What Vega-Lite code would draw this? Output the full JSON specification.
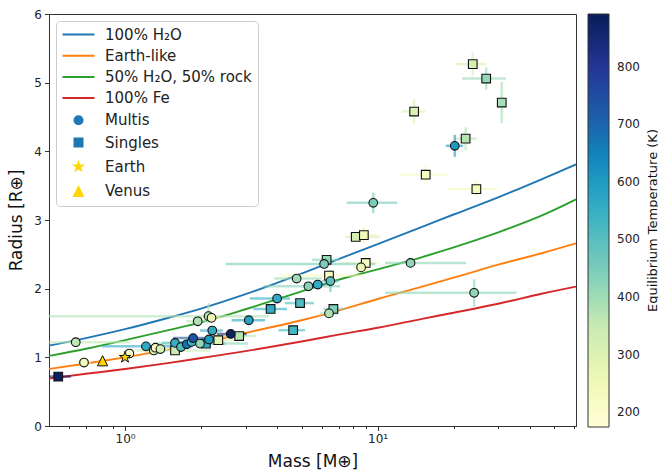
{
  "$schema": "https://vega.github.io/schema/vega-lite/v6.json",
  "width": 527,
  "height": 412,
  "autosize": {"type": "none"},
  "padding": {"left": 49, "top": 14, "right": 82, "bottom": 49},
  "config": {
    "font": "DejaVu Sans",
    "view": {"stroke": "#333", "strokeWidth": 1},
    "axis": {"grid": false, "domainColor": "#333", "tickColor": "#333", "labelColor": "#222", "titleColor": "#111", "labelFont": "DejaVu Sans", "titleFont": "DejaVu Sans", "titleFontWeight": "normal", "labelFontSize": 12, "titleFontSize": 17},
    "axisY": {"tickCount": 6, "tickSize": 4.5, "labelPadding": 3, "titlePadding": 8, "format": "d"}
  },
  "datasets": {
    "models": [
      {"model": "100% H₂O", "mass": 0.5, "radius": 1.17}, {"model": "100% H₂O", "mass": 0.7, "radius": 1.28}, {"model": "100% H₂O", "mass": 1, "radius": 1.41}, {"model": "100% H₂O", "mass": 1.5, "radius": 1.58}, {"model": "100% H₂O", "mass": 2, "radius": 1.71}, {"model": "100% H₂O", "mass": 3, "radius": 1.92}, {"model": "100% H₂O", "mass": 5, "radius": 2.22}, {"model": "100% H₂O", "mass": 7, "radius": 2.43}, {"model": "100% H₂O", "mass": 10, "radius": 2.65}, {"model": "100% H₂O", "mass": 15, "radius": 2.9}, {"model": "100% H₂O", "mass": 20, "radius": 3.08}, {"model": "100% H₂O", "mass": 30, "radius": 3.33}, {"model": "100% H₂O", "mass": 45, "radius": 3.6}, {"model": "100% H₂O", "mass": 61, "radius": 3.81},
      {"model": "Earth-like", "mass": 0.5, "radius": 0.83}, {"model": "Earth-like", "mass": 0.7, "radius": 0.91}, {"model": "Earth-like", "mass": 1, "radius": 1.0}, {"model": "Earth-like", "mass": 1.5, "radius": 1.115}, {"model": "Earth-like", "mass": 2, "radius": 1.205}, {"model": "Earth-like", "mass": 3, "radius": 1.355}, {"model": "Earth-like", "mass": 5, "radius": 1.54}, {"model": "Earth-like", "mass": 7, "radius": 1.68}, {"model": "Earth-like", "mass": 10, "radius": 1.85}, {"model": "Earth-like", "mass": 15, "radius": 2.03}, {"model": "Earth-like", "mass": 20, "radius": 2.16}, {"model": "Earth-like", "mass": 30, "radius": 2.35}, {"model": "Earth-like", "mass": 45, "radius": 2.52}, {"model": "Earth-like", "mass": 61, "radius": 2.66},
      {"model": "50% H₂O, 50% rock", "mass": 0.5, "radius": 1.02}, {"model": "50% H₂O, 50% rock", "mass": 0.7, "radius": 1.125}, {"model": "50% H₂O, 50% rock", "mass": 1, "radius": 1.25}, {"model": "50% H₂O, 50% rock", "mass": 1.5, "radius": 1.4}, {"model": "50% H₂O, 50% rock", "mass": 2, "radius": 1.51}, {"model": "50% H₂O, 50% rock", "mass": 3, "radius": 1.7}, {"model": "50% H₂O, 50% rock", "mass": 5, "radius": 1.96}, {"model": "50% H₂O, 50% rock", "mass": 7, "radius": 2.13}, {"model": "50% H₂O, 50% rock", "mass": 10, "radius": 2.28}, {"model": "50% H₂O, 50% rock", "mass": 15, "radius": 2.46}, {"model": "50% H₂O, 50% rock", "mass": 20, "radius": 2.6}, {"model": "50% H₂O, 50% rock", "mass": 30, "radius": 2.82}, {"model": "50% H₂O, 50% rock", "mass": 45, "radius": 3.07}, {"model": "50% H₂O, 50% rock", "mass": 61, "radius": 3.3},
      {"model": "100% Fe", "mass": 0.5, "radius": 0.69}, {"model": "100% Fe", "mass": 0.7, "radius": 0.76}, {"model": "100% Fe", "mass": 1, "radius": 0.83}, {"model": "100% Fe", "mass": 1.5, "radius": 0.92}, {"model": "100% Fe", "mass": 2, "radius": 0.99}, {"model": "100% Fe", "mass": 3, "radius": 1.09}, {"model": "100% Fe", "mass": 5, "radius": 1.23}, {"model": "100% Fe", "mass": 7, "radius": 1.33}, {"model": "100% Fe", "mass": 10, "radius": 1.43}, {"model": "100% Fe", "mass": 15, "radius": 1.56}, {"model": "100% Fe", "mass": 20, "radius": 1.65}, {"model": "100% Fe", "mass": 30, "radius": 1.78}, {"model": "100% Fe", "mass": 45, "radius": 1.93}, {"model": "100% Fe", "mass": 61, "radius": 2.03}
    ],
    "planets": [
      {"t": "Singles", "m": 0.544, "r": 0.72, "teq": 880, "mlo": 0.48, "mhi": 0.61, "rlo": 0.70, "rhi": 0.74},
      {"t": "Singles", "m": 1.577, "r": 1.10, "teq": 340, "mlo": 1.1, "mhi": 2.17, "rlo": 1.07, "rhi": 1.13},
      {"t": "Singles", "m": 2.09, "r": 1.20, "teq": 560, "mlo": 1.8, "mhi": 2.5, "rlo": 1.17, "rhi": 1.23},
      {"t": "Singles", "m": 2.34, "r": 1.25, "teq": 290, "mlo": 2.0, "mhi": 2.7, "rlo": 1.22, "rhi": 1.28},
      {"t": "Singles", "m": 2.83, "r": 1.31, "teq": 370, "mlo": 2.2, "mhi": 3.3, "rlo": 1.28, "rhi": 1.34},
      {"t": "Singles", "m": 3.77, "r": 1.705, "teq": 560, "mlo": 3.22, "mhi": 4.38, "rlo": 1.66, "rhi": 1.75},
      {"t": "Singles", "m": 4.63, "r": 1.395, "teq": 530, "mlo": 4.05, "mhi": 5.16, "rlo": 1.35, "rhi": 1.44},
      {"t": "Singles", "m": 4.93, "r": 1.79, "teq": 510, "mlo": 4.3, "mhi": 5.6, "rlo": 1.75, "rhi": 1.83},
      {"t": "Singles", "m": 6.42, "r": 2.19, "teq": 225, "mlo": 4.1, "mhi": 8.8, "rlo": 2.13, "rhi": 2.25},
      {"t": "Singles", "m": 6.28, "r": 2.42, "teq": 420, "mlo": 5.5, "mhi": 7.1, "rlo": 2.37, "rhi": 2.47},
      {"t": "Singles", "m": 6.68, "r": 1.705, "teq": 440, "mlo": 6.1, "mhi": 7.4, "rlo": 1.67, "rhi": 1.74},
      {"t": "Singles", "m": 8.19, "r": 2.754, "teq": 320, "mlo": 7.45, "mhi": 10.2, "rlo": 2.70, "rhi": 2.81},
      {"t": "Singles", "m": 8.82, "r": 2.78, "teq": 250, "mlo": 7.9, "mhi": 9.9, "rlo": 2.66, "rhi": 2.90},
      {"t": "Singles", "m": 8.97, "r": 2.375, "teq": 230, "mlo": 7.1, "mhi": 10.2, "rlo": 2.25, "rhi": 2.50},
      {"t": "Singles", "m": 13.95, "r": 4.58, "teq": 300, "mlo": 12.4, "mhi": 15.5, "rlo": 4.40, "rhi": 4.76},
      {"t": "Singles", "m": 15.5, "r": 3.66, "teq": 220, "mlo": 12.2, "mhi": 18.8, "rlo": 3.52, "rhi": 3.80},
      {"t": "Singles", "m": 22.3, "r": 4.185, "teq": 370, "mlo": 20.2, "mhi": 24.6, "rlo": 4.02, "rhi": 4.35},
      {"t": "Singles", "m": 23.8, "r": 5.27, "teq": 320, "mlo": 20.4, "mhi": 27.0, "rlo": 5.10, "rhi": 5.44},
      {"t": "Singles", "m": 24.6, "r": 3.45, "teq": 240, "mlo": 18.9, "mhi": 29.8, "rlo": 3.33, "rhi": 3.57},
      {"t": "Singles", "m": 26.9, "r": 5.06, "teq": 410, "mlo": 21.6, "mhi": 32.2, "rlo": 4.90, "rhi": 5.22},
      {"t": "Singles", "m": 31.0, "r": 4.71, "teq": 390, "mlo": 30.5, "mhi": 31.5, "rlo": 4.41, "rhi": 5.01},
      {"t": "Multis", "m": 0.638, "r": 1.22, "teq": 360, "mlo": 0.3, "mhi": 1.05, "rlo": 1.19, "rhi": 1.25},
      {"t": "Multis", "m": 0.688, "r": 0.924, "teq": 240, "mlo": 0.65, "mhi": 0.73, "rlo": 0.90, "rhi": 0.95},
      {"t": "Multis", "m": 1.04, "r": 1.055, "teq": 220, "mlo": 0.94, "mhi": 1.1, "rlo": 1.03, "rhi": 1.08},
      {"t": "Multis", "m": 1.21, "r": 1.16, "teq": 560, "mlo": 0.81, "mhi": 1.61, "rlo": 1.13, "rhi": 1.19},
      {"t": "Multis", "m": 1.30, "r": 1.10, "teq": 300, "mlo": 1.2, "mhi": 1.4, "rlo": 1.07, "rhi": 1.13},
      {"t": "Multis", "m": 1.32, "r": 1.14, "teq": 220, "mlo": 1.22, "mhi": 1.42, "rlo": 1.11, "rhi": 1.17},
      {"t": "Multis", "m": 1.38, "r": 1.12, "teq": 320, "mlo": 1.28, "mhi": 1.48, "rlo": 1.09, "rhi": 1.15},
      {"t": "Multis", "m": 1.577, "r": 1.21, "teq": 550, "mlo": 1.4, "mhi": 1.75, "rlo": 1.18, "rhi": 1.24},
      {"t": "Multis", "m": 1.665, "r": 1.15, "teq": 510, "mlo": 1.5, "mhi": 1.85, "rlo": 1.12, "rhi": 1.18},
      {"t": "Multis", "m": 1.755, "r": 1.19, "teq": 680, "mlo": 1.6, "mhi": 1.9, "rlo": 1.16, "rhi": 1.22},
      {"t": "Multis", "m": 1.835, "r": 1.225, "teq": 540, "mlo": 1.65, "mhi": 2.0, "rlo": 1.19, "rhi": 1.26},
      {"t": "Multis", "m": 1.86, "r": 1.28, "teq": 740, "mlo": 1.55, "mhi": 2.3, "rlo": 1.25, "rhi": 1.31},
      {"t": "Multis", "m": 1.94, "r": 1.525, "teq": 380, "mlo": 1.75, "mhi": 2.15, "rlo": 1.49, "rhi": 1.56},
      {"t": "Multis", "m": 1.98, "r": 1.20, "teq": 420, "mlo": 1.3, "mhi": 3.07, "rlo": 1.17, "rhi": 1.23},
      {"t": "Multis", "m": 2.15, "r": 1.26, "teq": 600, "mlo": 2.0, "mhi": 2.3, "rlo": 1.23, "rhi": 1.29},
      {"t": "Multis", "m": 2.14, "r": 1.60, "teq": 380, "mlo": 0.45, "mhi": 3.7, "rlo": 1.50, "rhi": 1.79},
      {"t": "Multis", "m": 2.20, "r": 1.575, "teq": 260, "mlo": 2.0, "mhi": 2.4, "rlo": 1.53, "rhi": 1.62},
      {"t": "Multis", "m": 2.215, "r": 1.39, "teq": 560, "mlo": 1.98, "mhi": 2.44, "rlo": 1.35, "rhi": 1.43},
      {"t": "Multis", "m": 2.62, "r": 1.34, "teq": 870, "mlo": 2.31, "mhi": 3.03, "rlo": 1.31, "rhi": 1.37},
      {"t": "Multis", "m": 3.09, "r": 1.54, "teq": 580, "mlo": 2.64, "mhi": 3.58, "rlo": 1.51, "rhi": 1.57},
      {"t": "Multis", "m": 4.0, "r": 1.856, "teq": 560, "mlo": 3.12, "mhi": 4.5, "rlo": 1.80, "rhi": 1.91},
      {"t": "Multis", "m": 4.78, "r": 2.147, "teq": 400, "mlo": 3.9, "mhi": 6.0, "rlo": 2.10, "rhi": 2.19},
      {"t": "Multis", "m": 5.32, "r": 2.035, "teq": 430, "mlo": 3.53, "mhi": 7.1, "rlo": 1.99, "rhi": 2.08},
      {"t": "Multis", "m": 5.79, "r": 2.06, "teq": 560, "mlo": 5.4, "mhi": 6.2, "rlo": 2.02, "rhi": 2.10},
      {"t": "Multis", "m": 6.14, "r": 2.36, "teq": 450, "mlo": 2.5, "mhi": 9.8, "rlo": 2.32, "rhi": 2.40},
      {"t": "Multis", "m": 6.5, "r": 2.11, "teq": 500, "mlo": 6.0, "mhi": 7.0, "rlo": 1.95, "rhi": 2.27},
      {"t": "Multis", "m": 6.42, "r": 1.64, "teq": 380, "mlo": 5.9, "mhi": 7.0, "rlo": 1.61, "rhi": 1.67},
      {"t": "Multis", "m": 8.6, "r": 2.31, "teq": 260, "mlo": 8.0, "mhi": 9.2, "rlo": 2.27, "rhi": 2.35},
      {"t": "Multis", "m": 9.61, "r": 3.25, "teq": 450, "mlo": 7.54, "mhi": 11.95, "rlo": 3.10, "rhi": 3.40},
      {"t": "Multis", "m": 13.5, "r": 2.375, "teq": 420, "mlo": 10.7, "mhi": 22.4, "rlo": 2.30, "rhi": 2.45},
      {"t": "Multis", "m": 24.1, "r": 1.94, "teq": 420, "mlo": 10.7, "mhi": 35.5, "rlo": 1.74, "rhi": 2.14},
      {"t": "Multis", "m": 20.2, "r": 4.08, "teq": 600, "mlo": 18.6, "mhi": 21.8, "rlo": 3.92, "rhi": 4.24}
    ],
    "solar": [
      {"key": "Earth", "m": 1.0, "r": 1.0},
      {"key": "Venus", "m": 0.815, "r": 0.95}
    ]
  },
  "layer": [
    {
      "data": {"name": "models"},
      "mark": {"type": "line", "strokeWidth": 1.9, "interpolate": "monotone", "clip": true},
      "encoding": {
        "x": {"field": "mass", "type": "quantitative", "scale": {"type": "log", "domain": [0.5, 61], "nice": false},
              "axis": {"orient": "bottom", "title": "Mass [M⊕]", "values": [1, 10], "labelExpr": "datum.value == 1 ? '10⁰' : '10¹'", "tickSize": 4.5, "labelPadding": 3, "titlePadding": 9}},
        "y": {"field": "radius", "type": "quantitative", "scale": {"domain": [0, 6], "nice": false},
              "axis": {"orient": "left", "title": "Radius [R⊕]"}},
        "color": {"field": "model", "type": "nominal",
                  "scale": {"domain": ["100% H₂O", "Earth-like", "50% H₂O, 50% rock", "100% Fe"], "range": ["#1f77b4", "#ff7f0e", "#2ca02c", "#d62728"]},
                  "legend": null}
      }
    },
    {
      "data": {"name": "planets"},
      "mark": {"type": "rule", "strokeWidth": 2.5, "opacity": 0.6, "clip": true},
      "encoding": {
        "x": {"field": "mlo", "type": "quantitative", "scale": {"type": "log", "domain": [0.5, 61], "nice": false},
              "axis": {"orient": "bottom", "title": null, "values": [0.6, 0.7, 0.8, 0.9, 2, 3, 4, 5, 6, 7, 8, 9, 20, 30, 40, 50, 60], "labels": false, "tickSize": 2.5, "domain": false}},
        "x2": {"field": "mhi"},
        "y": {"field": "r", "type": "quantitative", "scale": {"domain": [0, 6], "nice": false}, "axis": null},
        "color": {"field": "teq", "type": "quantitative",
                  "scale": {"domain": [174, 263.75, 353.5, 443.25, 533, 622.75, 712.5, 802.25, 892], "range": ["#ffffd9", "#edf8b1", "#c7e9b4", "#7fcdbb", "#41b6c4", "#1d91c0", "#225ea8", "#253494", "#081d58"]},
                  "legend": null}
      }
    },
    {
      "data": {"name": "planets"},
      "mark": {"type": "rule", "strokeWidth": 2.5, "opacity": 0.6, "clip": true},
      "encoding": {
        "x": {"field": "m", "type": "quantitative", "scale": {"type": "log", "domain": [0.5, 61], "nice": false}, "axis": null},
        "y": {"field": "rlo", "type": "quantitative", "scale": {"domain": [0, 6], "nice": false},
              "axis": {"orient": "right", "title": "Equilibrium Temperature (K)", "titleAngle": 270, "titleBaseline": "top", "titleFontSize": 13,
                       "titlePadding": 70, "labels": false, "ticks": false, "domain": false, "grid": false}},
        "y2": {"field": "rhi"},
        "color": {"field": "teq", "type": "quantitative",
                  "scale": {"domain": [174, 263.75, 353.5, 443.25, 533, 622.75, 712.5, 802.25, 892], "range": ["#ffffd9", "#edf8b1", "#c7e9b4", "#7fcdbb", "#41b6c4", "#1d91c0", "#225ea8", "#253494", "#081d58"]},
                  "legend": null}
      }
    },
    {
      "data": {"name": "planets"},
      "mark": {"type": "point", "filled": true, "stroke": "#111", "strokeWidth": 1.1, "opacity": 1, "size": 75, "clip": true},
      "encoding": {
        "x": {"field": "m", "type": "quantitative", "scale": {"type": "log", "domain": [0.5, 61], "nice": false}, "axis": null},
        "y": {"field": "r", "type": "quantitative", "scale": {"domain": [0, 6], "nice": false}, "axis": null},
        "fill": {"field": "teq", "type": "quantitative",
                 "scale": {"domain": [174, 263.75, 353.5, 443.25, 533, 622.75, 712.5, 802.25, 892], "range": ["#ffffd9", "#edf8b1", "#c7e9b4", "#7fcdbb", "#41b6c4", "#1d91c0", "#225ea8", "#253494", "#081d58"]},
                 "legend": {"orient": "none", "legendX": 539, "legendY": 0, "direction": "vertical", "gradientLength": 413, "gradientThickness": 21,
                            "values": [200, 300, 400, 500, 600, 700, 800], "labelFontSize": 12, "labelOffset": 8, "labelColor": "#222",
                            "title": null, "gradientStrokeColor": "#333", "gradientStrokeWidth": 1}},
        "shape": {"field": "t", "type": "nominal", "scale": {"domain": ["Multis", "Singles"], "range": ["circle", "square"]}, "legend": null}
      }
    },
    {
      "data": {"name": "solar"},
      "mark": {"type": "point", "filled": true, "opacity": 1, "size": 72, "clip": true},
      "encoding": {
        "x": {"field": "m", "type": "quantitative", "scale": {"type": "log", "domain": [0.5, 61], "nice": false}, "axis": null},
        "y": {"field": "r", "type": "quantitative", "scale": {"domain": [0, 6], "nice": false}, "axis": null},
        "fill": {"field": "key", "type": "nominal",
                 "scale": {"domain": ["100% H₂O", "Earth-like", "50% H₂O, 50% rock", "100% Fe", "Multis", "Singles", "Earth", "Venus"],
                           "range": ["#1f77b4", "#ff7f0e", "#2ca02c", "#d62728", "#1f77b4", "#1f77b4", "#ffd700", "#ffd700"]},
                 "legend": {"orient": "none", "legendX": 7, "legendY": 7, "title": null, "labelFontSize": 15, "labelColor": "#222",
                            "rowPadding": 5.2, "padding": 6, "fillColor": "rgba(255,255,255,0.8)", "strokeColor": "#cccccc", "cornerRadius": 4,
                            "symbolOffset": 9, "labelOffset": 19, "symbolSize": 100, "symbolOpacity": 1, "labelLimit": 300}},
        "shape": {"field": "key", "type": "nominal",
                  "scale": {"domain": ["100% H₂O", "Earth-like", "50% H₂O, 50% rock", "100% Fe", "Multis", "Singles", "Earth", "Venus"],
                            "range": ["M-3.2,-0.2H3.2V0.2H-3.2Z", "M-3.2,-0.2H3.2V0.2H-3.2Z", "M-3.2,-0.2H3.2V0.2H-3.2Z", "M-3.2,-0.2H3.2V0.2H-3.2Z", "circle", "square",
                                      "M0,-1.4L0.315,-0.433L1.331,-0.433L0.508,0.165L0.823,1.133L0,0.535L-0.823,1.133L-0.508,0.165L-1.331,-0.433L-0.315,-0.433Z",
                                      "M0,-1.2L1.2,1.2L-1.2,1.2Z"]},
                  "legend": {"orient": "none", "legendX": 7, "legendY": 7, "title": null}}
      }
    },
    {
      "data": {"name": "solar"},
      "mark": {"type": "point", "filled": false, "stroke": "#111", "strokeWidth": 1, "opacity": 1, "size": 72, "clip": true},
      "encoding": {
        "x": {"field": "m", "type": "quantitative", "scale": {"type": "log", "domain": [0.5, 61], "nice": false}, "axis": null},
        "y": {"field": "r", "type": "quantitative", "scale": {"domain": [0, 6], "nice": false}, "axis": null},
        "shape": {"field": "key", "type": "nominal",
                  "scale": {"domain": ["Earth", "Venus"],
                            "range": ["M0,-1.4L0.315,-0.433L1.331,-0.433L0.508,0.165L0.823,1.133L0,0.535L-0.823,1.133L-0.508,0.165L-1.331,-0.433L-0.315,-0.433Z",
                                      "M0,-1.2L1.2,1.2L-1.2,1.2Z"]},
                  "legend": null}
      }
    }
  ],
  "resolve": {"scale": {"color": "independent", "fill": "independent", "shape": "independent", "y": "independent"}, "axis": {"x": "independent", "y": "independent"}}
}
